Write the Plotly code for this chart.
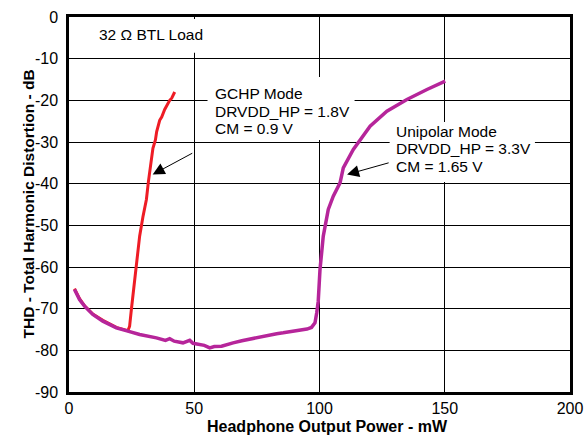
import plotly.graph_objects as go

# ---- data ----
gchp_x = [2.2, 4.2, 6.2, 9.5, 13.5, 18.9, 23.5, 24.2, 24.9, 26.2, 27.1, 28.2, 29.5, 30.9,
          31.7, 33.5, 34.5, 35.0, 36.2, 37.0, 38.2, 40.2, 41.0, 42.2]
gchp_y = [-65.2, -67.6, -69.3, -71.3, -72.8, -74.5, -75.3, -74.2, -70.2, -63.6, -58.2, -52.6, -48.0, -43.8,
          -39.5, -31.5, -29.5, -27.5, -24.8, -24.0, -22.2, -20.0, -19.5, -18.0]

uni_x = [2.2, 4.2, 6.2, 9.5, 13.5, 18.9, 23.5, 28.2, 34.9, 38.5, 40.2, 42.0, 45.5, 48.2, 49.5,
         50.9, 54.0, 56.2, 58.0, 60.9, 63.0, 65.5, 69.0, 72.2, 75.5, 78.9, 82.9, 85.5, 89.0,
         92.2, 95.0, 96.8, 98.2, 98.9, 99.5, 100.2, 101.5, 103.5, 105.5, 108.2, 109.5,
         113.5, 116.2, 120.2, 126.9, 134.9, 142.9, 150.2]
uni_y = [-65.4, -67.8, -69.4, -71.4, -73.0, -74.6, -75.4, -76.2, -77.0, -77.6, -77.2, -77.8, -78.2, -77.6, -78.3,
         -78.4, -78.8, -79.4, -79.1, -79.0, -78.6, -78.2, -77.7, -77.3, -76.8, -76.4, -76.0, -75.8, -75.5,
         -75.2, -74.9, -74.5, -73.4, -71.0, -68.2, -60.6, -52.6, -46.2, -43.0, -39.8, -36.2,
         -31.8, -29.4, -26.2, -22.6, -19.8, -17.4, -15.4]

x_ticks = [0, 50, 100, 150, 200]
x_tick_text = ["0", "50", "100", "150", "200"]
y_ticks = [0, -10, -20, -30, -40, -50, -60, -70, -80, -90]
y_tick_text = ["0", "-10", "-20", "-30", "-40", "-50", "-60", "-70", "-80", "-90"]

load_label = "32 Ω BTL Load"
gchp_lines = ["GCHP Mode", "DRVDD_HP = 1.8V", "CM = 0.9 V"]
uni_lines = ["Unipolar Mode", "DRVDD_HP = 3.3V", "CM = 1.65 V"]

FONT = "Liberation Sans, Arial, sans-serif"

fig = go.Figure()
fig.add_trace(go.Scatter(x=gchp_x, y=gchp_y, mode="lines",
                         line=dict(color="#EE1C25", width=3), showlegend=False))
fig.add_trace(go.Scatter(x=uni_x, y=uni_y, mode="lines",
                         line=dict(color="#B6259A", width=3.5), showlegend=False))

axis_common = dict(showgrid=True, gridcolor="black", gridwidth=1, showline=True,
                   linecolor="black", linewidth=2.5, mirror=True, ticks="",
                   zeroline=False, automargin=False,
                   tickfont=dict(family=FONT, size=16, color="black"))

fig.update_xaxes(range=[0, 200], tickvals=x_ticks, ticktext=x_tick_text,
                 ticklabelstandoff=0, **axis_common)
fig.update_yaxes(range=[-90, 0], tickvals=y_ticks, ticktext=y_tick_text,
                 ticklabelstandoff=5, **axis_common)

# white label boxes that hide the grid behind the texts
shapes = [
    dict(type="rect", xref="x", yref="y", x0=2.5, x1=54.5, y0=-0.5, y1=-8.6,
         fillcolor="white", line=dict(width=0), layer="above"),
    dict(type="rect", xref="x", yref="y", x0=55.3, x1=114.0, y0=-14.4, y1=-29.5,
         fillcolor="white", line=dict(width=0), layer="above"),
    dict(type="rect", xref="x", yref="y", x0=128.0, x1=186.0, y0=-25.2, y1=-39.6,
         fillcolor="white", line=dict(width=0), layer="above"),
]

ann_font = dict(family=FONT, size=15.5, color="black")
annotations = [
    dict(x=11.2, y=-4.3, xref="x", yref="y", text=load_label, showarrow=False,
         xanchor="left", yanchor="middle", font=ann_font),
]
for txt, yy in zip(gchp_lines, [-18.4, -22.7, -26.8]):
    annotations.append(dict(x=57.5, y=yy, xref="x", yref="y", text=txt, showarrow=False,
                            xanchor="left", yanchor="middle", font=ann_font))
for txt, yy in zip(uni_lines, [-27.5, -31.5, -35.8]):
    annotations.append(dict(x=129.7, y=yy, xref="x", yref="y", text=txt, showarrow=False,
                            xanchor="left", yanchor="middle", font=ann_font))
annotations += [
    dict(x=33.4, y=-37.8, xref="x", yref="y", ax=49.8, ay=-32.5, axref="x", ayref="y",
         text="", showarrow=True, arrowhead=2, arrowsize=2.4, arrowwidth=1, arrowcolor="black"),
    dict(x=111.0, y=-37.8, xref="x", yref="y", ax=128.2, ay=-34.9, axref="x", ayref="y",
         text="", showarrow=True, arrowhead=2, arrowsize=2.4, arrowwidth=1, arrowcolor="black"),
    dict(x=103, y=-0.091, xref="x", yref="paper", text="<b>Headphone Output Power - mW</b>",
         showarrow=False, xanchor="center", yanchor="middle",
         font=dict(family=FONT, size=16, color="black")),
    dict(x=-0.0818, y=0.5, xref="paper", yref="paper",
         text="<b>THD - Total Harmonic Distortion - dB</b>", textangle=-90,
         showarrow=False, xanchor="center", yanchor="middle",
         font=dict(family=FONT, size=15.5, color="black")),
]

fig.update_layout(width=587, height=437, margin=dict(l=69, r=17, t=17, b=45, autoexpand=False),
                  paper_bgcolor="white", plot_bgcolor="white",
                  font=dict(family=FONT, color="black"), annotations=annotations, shapes=shapes)

fig.write_html("out.html", config={"displayModeBar": False},
               post_script="document.body.style.margin='0px';document.body.style.overflow='hidden';")
